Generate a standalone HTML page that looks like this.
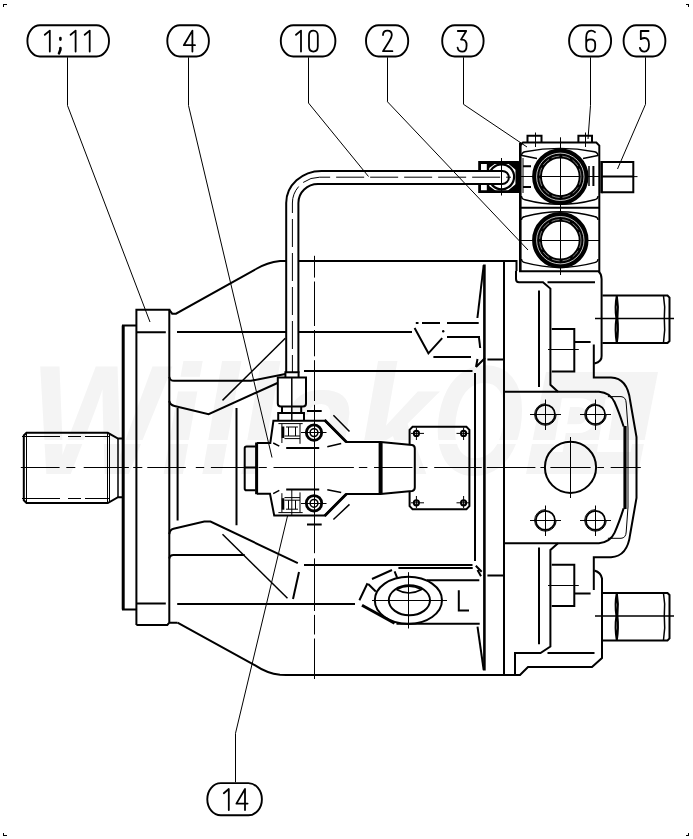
<!DOCTYPE html>
<html><head><meta charset="utf-8"><title>Pump drawing</title>
<style>
html,body{margin:0;padding:0;background:#fff;}
svg{display:block;}
.k{fill:none;stroke:#000;stroke-width:2;stroke-linecap:butt;stroke-linejoin:miter;}
.m{fill:none;stroke:#000;stroke-width:1.5;}
.t{fill:none;stroke:#000;stroke-width:1;}
.h{fill:none;stroke:#000;stroke-width:3;}
.d{fill:none;stroke:#000;stroke-width:1;stroke-dasharray:22 5;}
.dk{fill:none;stroke:#000;stroke-width:2;stroke-dasharray:18 6;}
.g{fill:none;stroke:#000;stroke-width:1.8;stroke-linecap:round;stroke-linejoin:round;}
.w{fill:#f4f4f4;font-family:"Liberation Sans",sans-serif;font-weight:bold;font-style:italic;}
</style></head><body>
<svg width="693" height="839" viewBox="0 0 693 839">
<rect x="0" y="0" width="693" height="839" fill="#ffffff"/>
<defs>
<path id="n0" d="M5,0 C2.2,0 0.6,2 0.6,5 L0.6,16 C0.6,19 2.2,21 5,21 C7.8,21 9.4,19 9.4,16 L9.4,5 C9.4,2 7.8,0 5,0 Z"/>
<path id="n1" d="M0,4.2 L5,0 L5,21"/>
<path id="n2" d="M0.6,4.5 C0.6,1.6 2.4,0 5,0 C7.6,0 9.4,1.6 9.4,4.4 C9.4,6.6 8.6,8 7,10.5 L0.6,20.6 L10,20.6"/>
<path id="n3" d="M0.6,0.4 L9,0.4 L3.8,9 L5,9 C7.8,9 9.4,11 9.4,14.8 C9.4,18.8 7.8,21 5,21 C2.4,21 0.9,19.5 0.4,17"/>
<path id="n4" d="M9,21 L9,0 L0.4,14.6 L11.6,14.6"/>
<path id="n5" d="M9.2,0.4 L1.4,0.4 L1.4,8.6 C2.6,7.8 3.8,7.4 5.2,7.4 C8,7.4 9.6,9.6 9.6,14 C9.6,18.6 7.8,21 5,21 C2.6,21 1,19.6 0.5,17.2"/>
<path id="n6" d="M9.4,1.6 C8.2,0.5 7,0 5.6,0 C2.4,0 0.6,2.4 0.6,7 L0.6,16 C0.6,19.2 2.2,21 5,21 C7.8,21 9.6,19.2 9.6,15.6 L9.6,13.4 C9.6,10.4 7.8,8.8 5,8.8 C2.4,8.8 0.6,10.4 0.6,13"/>
</defs>

<!--WATERMARK-->
<g>
<text class="w" x="30" y="474" font-size="156" textLength="404" lengthAdjust="spacingAndGlyphs">Willak</text>
<text class="w" x="432" y="474" font-size="156" textLength="92" lengthAdjust="spacingAndGlyphs">O</text>
<path d="M546,372 H658 L638,474 H526 Z" fill="#f4f4f4"/>
<text x="552" y="452" font-size="78" textLength="84" lengthAdjust="spacingAndGlyphs" fill="#fff" font-family="Liberation Sans, sans-serif" font-weight="bold" font-style="italic">PL</text>
<rect x="20" y="440" width="650" height="4" fill="#fff"/>
</g>

<!--CORNERS-->
<path class="t" shape-rendering="crispEdges" d="M3.500,7 V4.500 H7 M686,4.500 H688.500 V7 M3.500,833 V835.500 H7 M686,835.500 H688.500 V833"/>

<!--BALLOONS-->
<g class="m" style="stroke-width:1.900">
<rect x="27.4" y="25.3" width="81.6" height="31.2" rx="12.5" ry="15.6"/>
<rect x="167.3" y="25.3" width="41.6" height="31.2" rx="12.5" ry="15.6"/>
<rect x="280.8" y="25.3" width="54.6" height="31.2" rx="12.5" ry="15.6"/>
<rect x="366.0" y="25.3" width="42.2" height="31.2" rx="12.5" ry="15.6"/>
<rect x="442.2" y="25.3" width="41.4" height="31.2" rx="12.5" ry="15.6"/>
<rect x="569.1" y="25.3" width="42.0" height="31.2" rx="12.5" ry="15.6"/>
<rect x="623.6" y="25.3" width="41.8" height="31.2" rx="12.5" ry="15.6"/>
<rect x="207.3" y="783.1" width="54.6" height="32.2" rx="13.5" ry="16.1"/>
</g>
<g class="g">
<use href="#n1" x="44.800" y="30.600"/>
<path d="M60.400,38 V39.600 M60.400,48 V49.800 L59,53.400" style="stroke-width:2.600"/>
<use href="#n1" x="70.600" y="30.600"/>
<use href="#n1" x="84.700" y="30.600"/>
<use href="#n4" x="183.400" y="30.600"/>
<use href="#n1" x="296" y="30.600"/>
<use href="#n0" x="308.400" y="30.600"/>
<use href="#n2" x="382.400" y="30.600"/>
<use href="#n3" x="457.200" y="30.600"/>
<use href="#n6" x="585.600" y="30.600"/>
<use href="#n5" x="639.400" y="30.600"/>
<use href="#n1" x="223.800" y="789"/>
<use href="#n4" x="236" y="789"/>
</g>




<!--SHAFT-->
<path class="k" d="M123,438.600 H118 L107.800,432.800 H26.500 L23.800,435.500 V500.300 L26.500,503 H107.800 L118,497.200 H123"/>
<path class="t" d="M26.500,433 V503 M107.500,433 V503 M109.500,434 V502"/>
<path class="m" d="M118,438.600 V497.200"/>
<path class="t" d="M22,436.500 H110 M22,498.500 H110" stroke-dasharray="38 8 13 4"/>

<!--FLANGE-->
<path class="h" d="M123.200,325.600 V609.600"/>
<path class="k" d="M122,325.600 H136.400 M122,609.600 H136.400"/>
<path class="k" d="M136.400,625 V309.800 H169.300 V622.700 M136.400,625 H167.300 L169.300,622.700 H177.500"/>
<path class="k" d="M136.400,332.200 H165.800 M136.400,603.600 H165.800"/>

<!--HOUSING OUTLINE-->
<path class="k" d="M169.300,309.800 L172.200,313.700 H176 L256,269 Q267,262.500 280,261 H516.300"/>
<path class="k" d="M177.500,622.700 L256,665.800 Q267,673.200 280,674.800 L286,675 H520 L528,667 H592 L602,658 V578.500 Q601,572.500 594.400,570.500"/>
<path class="k" d="M177,332 H286 M298,332 H412"/>
<path class="k" d="M177.200,604 H355"/>
<!-- upper lug -->
<path class="k" d="M169.300,376.800 Q170,380.800 174,380.800 H251 L285.400,374"/>
<path class="k" d="M169.300,401 Q170,405 174.500,406 L208.600,414.100 L277.500,383"/>
<path class="m" d="M285.300,338.300 L222.500,400.400"/>
<path class="k" d="M177.600,408 V520.400 M236.500,408 V525.300"/>
<!-- lower lug -->
<path class="k" d="M169.300,534.200 Q169.800,529.600 173.500,528.800 L204.300,521.600 H210.500 L297.800,563.100"/>
<path class="k" d="M169.300,558.500 Q169.800,555 173.500,555 H244.700"/>
<path class="m" d="M222.500,534.200 L287.500,598.300"/>
<path class="k" d="M299,572 L293,599"/>
<path class="k" d="M304,371 H472.500 M304,565 H472.500"/>


<!--BANJO FITTING-->
<path class="h" d="M479.600,162.500 H517 V191.600 H479.600 Z" style="stroke-width:2.800"/>
<path class="h" d="M518.400,161.100 V193" style="stroke-width:5.200"/>
<path class="h" d="M488,162.500 V191.600" style="stroke-width:2.400"/>
<circle cx="501.600" cy="176.800" r="12.500" class="k" style="stroke-width:2.200"/>
<path d="M507.500,163 H516.500 V170.500 Z M507.500,191 H516.500 V183.500 Z M488.500,163 H496 L488.500,168.500 Z M488.500,191 H496 L488.500,185.500 Z" fill="#000"/>
<!--PIPE-->
<path d="M286.200,373 V203 A35.200,32.100 0 0 1 321.400,170.900 H502.300 A6.550,6.550 0 0 1 502.300,184 H318 A19.600,19 0 0 0 298.400,203 V373 Z" fill="#fff" stroke="none"/>
<path class="k" d="M286.200,373 V203 A35.200,32.100 0 0 1 321.400,170.900 H502.300 A6.550,6.550 0 0 1 502.300,184 H318 A19.600,19 0 0 0 298.400,203 V373"/>
<path class="t" d="M292.400,373 V203 A27.300,25.800 0 0 1 319.700,177.200 H511" stroke-dasharray="28 6" stroke-dashoffset="10"/>
<path class="t" d="M501.500,158 V195.500"/>

<!--NUT ON PIPE-->
<path class="k" d="M285.400,377.500 V372.200 H298.600 V377.500" fill="#fff"/>
<path class="k" d="M277.800,377.500 H306 V403.600 Q306,406.600 303,406.600 H280.800 Q277.800,406.600 277.800,403.600 Z" fill="#fff"/>
<path class="m" d="M291.800,377.500 V447.500"/>
<path class="k" d="M282,406.600 V412.400 M301.200,406.600 V412.400 M278.200,420.600 V413 H304 V420.600"/>


<!--PLATE-->
<path class="k" d="M412.600,426.800 H466.400 L469.400,429.800 V506.200 L466.400,509.200 H412.600 L409.600,506.200 V429.800 Z"/>
<g class="t">
<circle cx="416.400" cy="433.400" r="2.600" style="stroke-width:2"/><circle cx="463.600" cy="433.400" r="2.600" style="stroke-width:2"/>
<circle cx="416.400" cy="502.800" r="2.600" style="stroke-width:2"/><circle cx="463.600" cy="502.800" r="2.600" style="stroke-width:2"/>
<path d="M411,433.400 H424 M416.400,427.500 V440 M456.500,433.400 H469 M463.600,427.500 V440 M411,502.800 H424 M416.400,496 V508 M456.500,502.800 H469 M463.600,496 V508"/>
</g>
<!--VALVE 4-->
<path d="M256.800,443 H270.300 L273.400,420.800 H325 L346.400,442.100 H380.600 L412,445 Q414.800,445.600 414.800,448.500 V487.400 Q414.800,490.300 412,490.900 L380.600,493.900 H346.400 L325,515.400 H274.200 L270,493.700 H256.800 Z" fill="#fff" stroke="none"/>
<path class="k" d="M256.800,443 H270.300 L273.400,420.800 H325 L346.400,442.100 H380.600 L412,445 Q414.800,445.600 414.800,448.500 V487.400 Q414.800,490.300 412,490.900 L380.600,493.900 H346.400 L325,515.400 H274.200 L270,493.700 H256.800"/>
<path class="h" d="M346.400,442.100 L324.600,420 M346.400,493.900 L324.600,516" style="stroke-width:2.800"/>
<path class="h" d="M380.600,442 V494" style="stroke-width:4"/>
<path class="h" d="M256.600,442.500 V494.200" style="stroke-width:3"/>
<path class="k" d="M255.500,446.600 H246.500 Q244.700,446.600 244.700,448.400 V488.400 Q244.700,490.200 246.500,490.200 H255.500" fill="#fff"/>
<path class="m" d="M333.400,415.200 L349.500,431.500 M333.400,519.500 L349.500,504.400"/>
<path class="m" d="M327.300,446.800 L341.200,443.600 M327.300,489.700 L341.200,492.400 M273.200,443 L279.300,446.200 M273.200,493.700 L279.300,490.400"/>
<path class="k" d="M286.200,447.900 H319.200 M286.200,489.400 H319.200 M307,411 H321.700 M307,524.600 H321.700"/>
<!-- screws -->
<g>
<circle cx="314" cy="432.600" r="7.700" class="k" style="stroke-width:2.800"/><circle cx="314" cy="432.600" r="3.900" class="m"/>
<circle cx="314" cy="503.300" r="7.700" class="k" style="stroke-width:2.800"/><circle cx="314" cy="503.300" r="3.900" class="m"/>
<path class="t" d="M301,432.500 H326.500 M301,503.500 H326.500"/>
</g>
<!-- internal upper -->
<path class="t" d="M278.400,423.600 H302.700 M281.900,423.900 V443 M300,423.900 V443.800 M284.500,436 H300 M284.500,438.600 H300 M286,427 H298 M288.500,427 V436 M295.500,427 V436"/>
<path class="h" d="M283,426.500 V438" style="stroke-width:2.600"/>
<!-- internal lower -->
<path class="t" d="M278.400,512.600 H302.700 M281.900,512.300 V493.200 M300,512.300 V492.400 M284.500,500.200 H300 M284.500,497.600 H300 M286,509.200 H298 M288.500,509.200 V500.200 M295.500,509.200 V500.200"/>
<path class="h" d="M283,509.700 V498.200" style="stroke-width:2.600"/>
<path class="t" d="M291.800,489 V516"/>


<!--HOUSING RIGHT VERTICALS-->
<path class="k" d="M504,261 V675"/>
<path class="h" d="M484.400,264.600 V670.500" style="stroke-width:2.600"/>
<path class="k" d="M475,373 V561"/>
<path class="k" d="M483.700,265 L477.400,318"/>
<path class="k" d="M478.800,336 L480.200,348"/>
<path class="k" d="M476,367 L485,358 M476,367 L477.500,359"/>
<path class="k" d="M487.400,359.500 H503.800 M487.400,575.500 H503.800"/>
<path class="k" d="M475.800,565.800 L481.700,571.700 M477.500,570 L481,576.300"/>
<path class="k" d="M477.500,626.700 L483.700,670"/>
<path class="k" d="M398.400,568.100 H472.700"/>
<!--DASHED ARROW-->
<path class="k" d="M415.800,323 H418.500 M422,323 H440 M447,323 H478.700 M447,337 H480 M433.400,357 H471"/>
<path class="k" d="M414.600,328 L428.400,353.300 L442.200,338.200"/>
<circle cx="443.200" cy="331.200" r="1.200" fill="#000"/>
<!--L-->
<path class="k" d="M458.800,590.300 V610.400 H469"/>
<!--LUG-->
<ellipse cx="408.400" cy="600.300" rx="33.600" ry="23.600" class="k"/>
<ellipse cx="409.400" cy="600.300" rx="20.600" ry="15" class="k"/>
<path class="m" d="M396.500,589.500 Q409,583 421.500,589.500 Q409,596.500 396.500,589.500"/>
<path class="t" d="M372,600.500 H447 M408.500,572.200 V628.500"/>
<path class="k" d="M372,579 L392,570 M359.400,600.300 L367.500,583.200 M394.600,571.400 L397.100,577.700 M368.200,584 L375.800,591.500"/>
<path class="h" d="M362,605.300 L394.600,623.200" style="stroke-width:3"/>
<path class="k" d="M426.800,580.300 H479.300 M396.500,623.700 H479.700"/>


<!--END COVER-->
<path class="k" d="M504.500,261 H516.500 V271 M516,271 V279 Q516,282.200 519,282.200 H543 L550.400,288.600 V384.700 L558,391.700"/>
<path class="k" d="M515,675 V653 H540.500 L550.400,646.500 V550 L558,543.200"/>
<path class="k" d="M547.500,282.200 H595 M547.500,653 H594.500"/>
<path class="k" d="M539,290.500 V387 M539,547.600 V644.300"/>
<path class="k" d="M504.500,391.700 H599 Q610,392.500 614.500,402 Q619,412 623.600,426.500"/>
<path class="k" d="M504.500,543.200 H599 Q610,542.400 614.500,532.900 Q619,522.900 623.600,508.400"/>
<path class="h" d="M625,426 V509" style="stroke-width:3.200"/>
<path class="t" d="M607.900,396.600 H621 Q625.900,397 626.200,403 L628,428 V507 L626.200,532 Q625.900,538 621,538.300 H607.900"/>
<path class="k" d="M598.500,271.300 Q601.500,274 601.600,279 V356 Q602,361.500 594.400,363.500"/>
<path class="k" d="M593.800,344.500 V377.500 H611 Q627.500,378 630.200,401 L636.500,437 V498 L630.200,534 Q627.500,556.600 611,557.200 H593.800 V590"/>
<!-- bolts -->
<path class="k" d="M551.700,329 H574.300 V371.400 H551.700 M574.300,342 H590.600"/>
<path class="k" d="M551.700,564.700 H574.300 V606.100 H551.700 M574.300,593.600 H590.600"/>
<path class="t" d="M548,349.500 H578.800 M548,585.500 H578.800"/>
<!-- holes -->
<circle cx="570.500" cy="467.300" r="25.600" class="k"/>
<path class="t" d="M570.500,437 V498"/>
<g class="k" style="stroke-width:1.800">
<circle cx="545.400" cy="414.500" r="9.600"/><circle cx="595.500" cy="414.500" r="9.600"/>
<circle cx="545.400" cy="520.400" r="9.600"/><circle cx="595.500" cy="520.400" r="9.600"/>
</g>
<g class="t">
<path d="M556.200,414.500 A10.800,10.800 0 1 1 545.400,403.700 M606.300,414.500 A10.800,10.800 0 1 1 595.500,403.700 M556.200,520.400 A10.800,10.800 0 1 1 545.400,509.600 M606.300,520.400 A10.800,10.800 0 1 1 595.500,509.600"/>
<path d="M530,414.500 H561 M545.500,399.500 V430 M580,414.500 H611 M595.500,399.500 V430 M530,520.500 H561 M545.500,505.500 V536 M580,520.500 H611 M595.500,505.500 V536"/>
</g>


<!--VALVE BLOCK-->
<path class="k" d="M520,271.300 V145.600 L523,142.600 H596.300 L599.300,145.600 V271.300 Z" fill="#fff"/>
<path class="h" d="M520.300,142.600 V271.300" style="stroke-width:2.600"/>
<path class="k" d="M520,207.700 H599.300"/>
<path class="t" style="stroke-width:1.4" d="M521.500,156 Q521.500,152.500 525,151.800 Q560,145 594.500,151.800 Q598,152.500 598,156 M522,155.500 L537,158.500 M598,155.500 L583,158.500 M521.500,196 Q521.500,199 525,199.800 Q560,209 594.500,199.800 Q598,199 598,196 M521.500,220 Q521.500,217.200 525,216.500 Q560,207 594.500,216.500 Q598,217.200 598,220 M521.500,259 Q521.500,262 525,262.600 Q560,272 594.500,262.600 Q598,262 598,259"/>
<path class="t" d="M520,176.500 H599.300 M520,240.500 H599.300 M560.500,137.300 V275"/>
<g fill="none">
<circle cx="560.300" cy="176.800" r="23.300" stroke="#000" style="stroke-width:9.800"/>
<circle cx="560.300" cy="176.800" r="23.700" stroke="#fff" style="stroke-width:0.900" stroke-opacity="0.850"/>
<circle cx="560.300" cy="176.800" r="20.700" stroke="#fff" style="stroke-width:0.700" stroke-opacity="0.700" stroke-dasharray="8 3"/>
<circle cx="560.300" cy="240.200" r="23.300" stroke="#000" style="stroke-width:9.800"/>
<circle cx="560.300" cy="240.200" r="23.700" stroke="#fff" style="stroke-width:0.900" stroke-opacity="0.850"/>
<circle cx="560.300" cy="240.200" r="20.700" stroke="#fff" style="stroke-width:0.700" stroke-opacity="0.700" stroke-dasharray="8 3"/>
</g>
<!-- top bolts -->
<path class="k" d="M527.500,142.600 V135.800 H541.500 V142.600 M578.400,142.600 V135.800 H592 V142.600"/>
<path class="t" d="M535.500,132.500 V147 M585.500,132.500 V147"/>
<!-- side marks -->
<path class="t" d="M523,158 V193"/><path class="k" d="M523,166.200 H531 M523,187 H531 M593.400,166 V186"/><path class="m" d="M589,166 V186"/>
<!-- plug 5 -->
<path class="k" d="M601.400,162 H633.300 V192.200 H601.400 M601.400,176.600 H633.300"/>
<path class="h" d="M601.600,161 V193.200" style="stroke-width:2.600"/>
<path class="t" d="M633,176.600 H637.500"/>
<!--RIGHT PLUGS-->
<g id="plug">
<path class="k" d="M602.400,295.600 H667.500 L669.500,297.600 V341 L667.500,343 H602.400"/>
<path class="k" d="M616.800,295.600 Q614.600,307 616.400,318.400 Q614.600,330 616.800,343 M616.800,295.600 Q618.800,307 617.400,318.400 Q618.800,330 616.800,343" style="stroke-width:2"/>
<path class="m" d="M663.500,296 Q665.500,307 664.300,318.400 Q665.500,330 663.500,342.600"/>
</g>
<use href="#plug" transform="translate(0,297.400)"/>
<path class="m" d="M595,318.500 H674 M595,616 H674"/>

<!--PARTS-->
<path class="k" d="M245,467.500 H256"/>
<!--CENTERLINES-->
<path class="t" d="M20.8,467.5 H59.6 M66.3,467.5 H75.3 M83.7,467.5 H128.9 M133.2,467.5 H142.3 M147.3,467.5 H185.8 M195.8,467.5 H204.2 M210.9,467.5 H256.0 M258.5,467.5 H266.8 M273.5,467.5 H353.9 M358.9,467.5 H367.3 M374.0,467.5 H412.5 M419.2,467.5 H427.5 M434.2,467.5 H481.8 M486.8,467.5 H535.4 M540.4,467.5 H545.4 M550.4,467.5 H590.6 M597.3,467.5 H604.0 M610.7,467.5 H640.8 M314.5,255.8 V277.6 M314.5,281.5 V326.0 M314.5,330.0 V356.3 M314.5,360.2 V401.0 M314.5,404.8 V553.2 M314.5,558.4 V611.0 M314.5,614.9 V634.5 M314.5,638.5 V679.0"/>

<!--LEADERS-->
<g class="t">
<path d="M67.500,57.300 V105.500 L150,322"/>
<path d="M188.500,57.300 V105.500 L272,457.500"/>
<path d="M308.500,57.300 V103 L368.500,176.500"/>
<path d="M387.500,57.300 V101.800 L528,250"/>
<path d="M463.500,57.300 V104.300 L527,147"/>
<path d="M590.500,57.300 V105.500 L588,139"/>
<path d="M645.500,57.300 V104.300 L617.500,169"/>
<path d="M235.500,782.300 V733.300 L287.500,516"/>
</g>

</svg>
</body></html>
